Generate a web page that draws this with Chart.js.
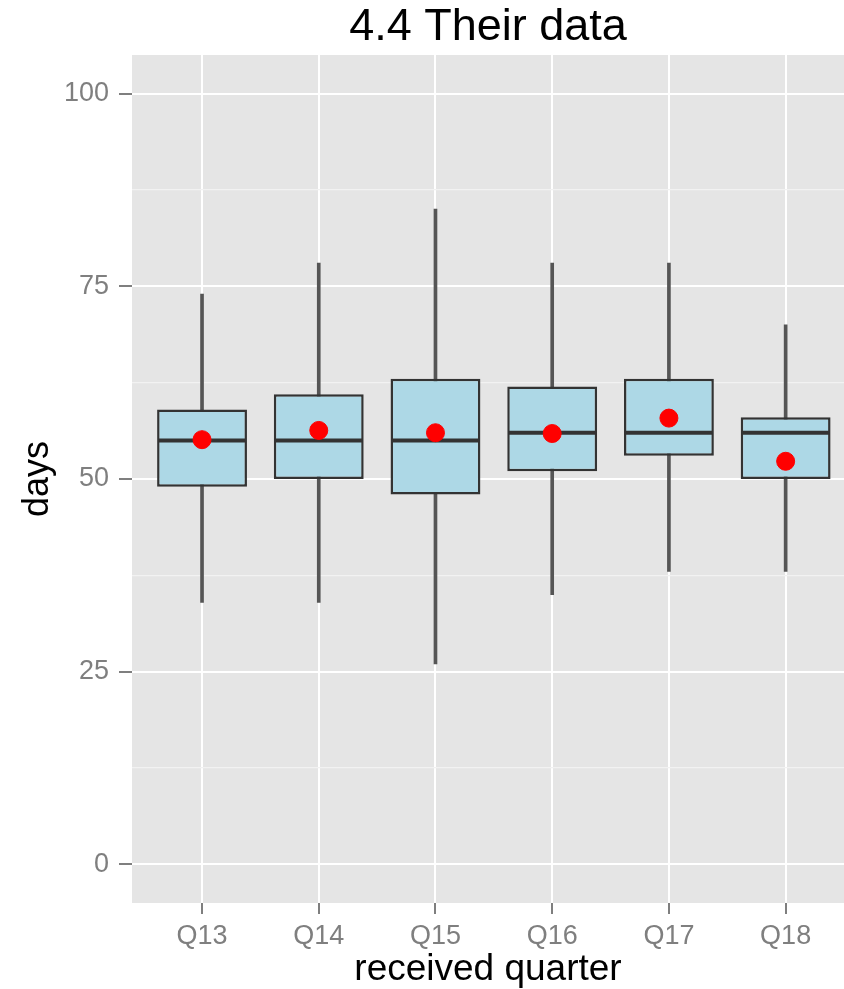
<!DOCTYPE html>
<html><head><meta charset="utf-8">
<script src="https://cdn.jsdelivr.net/npm/chart.js@4.4.1/dist/chart.umd.min.js"></script>
<style>html,body{margin:0;padding:0;background:#fff;overflow:hidden}canvas{display:block}</style>
</head><body><canvas id="c" width="844" height="989"></canvas>
<script>
const categories = ['Q13', 'Q14', 'Q15', 'Q16', 'Q17', 'Q18'];
const whiskerLow  = [34, 34, 26, 35, 38, 38];
const q1          = [49, 50, 48, 51, 53, 50];
const median      = [55, 55, 55, 56, 56, 56];
const q3          = [59, 61, 63, 62, 63, 58];
const whiskerHigh = [74, 78, 85, 78, 78, 70];
const means       = [55.1, 56.3, 56.0, 55.9, 57.9, 52.3];
const yTickValues = [0, 12.5, 25, 37.5, 50, 62.5, 75, 87.5, 100];
const yMajor      = [0, 25, 50, 75, 100];

const FONT = '"Liberation Sans", Arial, Helvetica, sans-serif';
const isMajor = v => yMajor.includes(v);

const panelBg = {
  id: 'panelBg',
  beforeDraw(chart) {
    const {ctx, chartArea: a} = chart;
    ctx.save();
    ctx.fillStyle = '#E5E5E5';
    ctx.fillRect(a.left, a.top, a.right - a.left, a.bottom - a.top);
    ctx.restore();
  }
};

const medianLines = {
  id: 'medianLines',
  afterDatasetDraw(chart, args) {
    if (args.index !== 1) return;
    const {ctx} = chart;
    const ys = chart.scales.y;
    ctx.save();
    ctx.strokeStyle = '#333333';
    ctx.lineWidth = 4;
    args.meta.data.forEach((bar, i) => {
      const {x, width} = bar.getProps(['x', 'width'], true);
      const y = ys.getPixelForValue(median[i]);
      ctx.beginPath();
      ctx.moveTo(x - width / 2 + 1.5, y);
      ctx.lineTo(x + width / 2 - 1.5, y);
      ctx.stroke();
    });
    ctx.restore();
  }
};

new Chart(document.getElementById('c'), {
  type: 'bar',
  data: {
    datasets: [
      {
        label: 'whiskers',
        data: categories.map((c, i) => ({x: i, y: [whiskerLow[i], whiskerHigh[i]]})),
        backgroundColor: '#555555',
        borderWidth: 0,
        barThickness: 3,
        grouped: false,
        order: 3
      },
      {
        label: 'box',
        data: categories.map((c, i) => ({x: i, y: [q1[i], q3[i]]})),
        backgroundColor: '#ADD8E6',
        borderColor: '#333333',
        borderWidth: 2.5,
        borderSkipped: false,
        barPercentage: 0.77,
        categoryPercentage: 1,
        grouped: false,
        order: 2
      },
      {
        type: 'line',
        label: 'mean',
        data: categories.map((c, i) => ({x: i, y: means[i]})),
        showLine: false,
        pointRadius: 9,
        pointBorderWidth: 1,
        pointBackgroundColor: '#FF0000',
        pointBorderColor: '#FF0000',
        order: 1
      }
    ]
  },
  options: {
    responsive: false,
    animation: false,
    layout: {padding: 0, autoPadding: false},
    plugins: {
      legend: {display: false},
      tooltip: {enabled: false},
      title: {
        display: true,
        fullSize: false,
        text: '4.4 Their data',
        color: '#000000',
        font: {family: FONT, size: 45, weight: 'normal'},
        padding: {top: 1, bottom: 0}
      }
    },
    scales: {
      x: {
        type: 'linear',
        offset: false,
        min: -0.6,
        max: 5.5,
        afterBuildTicks: s => { s.ticks = categories.map((c, i) => ({value: i})); },
        afterFit: s => { s.height = 86; },
        border: {display: false},
        grid: {
          offset: false,
          color: '#FFFFFF',
          lineWidth: 2,
          tickColor: '#7F7F7F',
          tickWidth: 2,
          tickLength: 11
        },
        ticks: {
          callback: v => categories[v],
          color: '#7F7F7F',
          font: {family: FONT, size: 27},
          padding: 6,
          maxRotation: 0,
          autoSkip: false
        },
        title: {
          display: true,
          text: 'received quarter',
          color: '#000000',
          font: {family: FONT, size: 37},
          padding: {top: 0, bottom: -3}
        }
      },
      y: {
        type: 'linear',
        min: -5,
        max: 105,
        afterBuildTicks: s => { s.ticks = yTickValues.map(v => ({value: v})); },
        afterFit: s => { s.width = 132; },
        border: {display: false},
        grid: {
          color: c => isMajor(c.tick.value) ? '#FFFFFF' : '#F2F2F2',
          lineWidth: c => isMajor(c.tick.value) ? 2 : 1.2,
          tickColor: c => isMajor(c.tick.value) ? '#7F7F7F' : 'rgba(0,0,0,0)',
          tickWidth: 2,
          tickLength: 13
        },
        ticks: {
          callback: v => isMajor(v) ? String(v) : '',
          color: '#7F7F7F',
          font: {family: FONT, size: 27},
          padding: 10,
          autoSkip: false
        },
        title: {
          display: true,
          text: 'days',
          color: '#000000',
          font: {family: FONT, size: 36},
          padding: {top: 16, bottom: 0}
        }
      }
    }
  },
  plugins: [panelBg, medianLines]
});
</script>
</body></html>
